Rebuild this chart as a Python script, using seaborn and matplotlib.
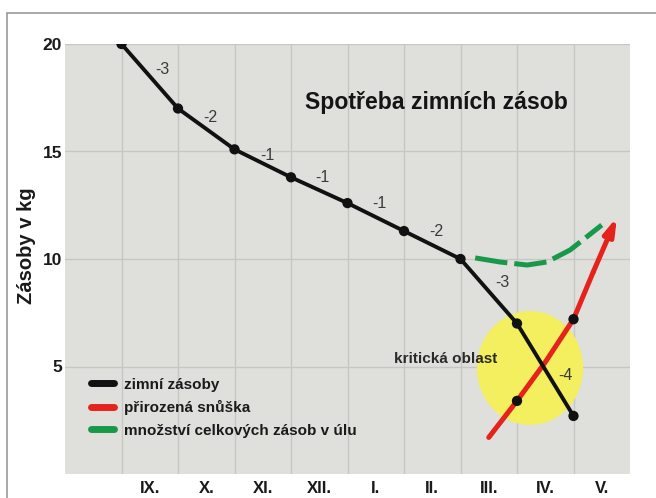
import matplotlib
matplotlib.use("Agg")
import matplotlib.pyplot as plt
import seaborn as sns
import pandas as pd
from matplotlib.patches import Ellipse, Rectangle
from matplotlib.lines import Line2D

# ---- data ----
months = ["IX.", "X.", "XI.", "XII.", "I.", "II.", "III.", "IV.", "V."]
month_pos = [1.5, 2.5, 3.5, 4.5, 5.5, 6.5, 7.5, 8.5, 9.5]

stock_x = [1, 2, 3, 4, 5, 6, 7, 8, 9]
stock_y = [20.0, 17.0, 15.1, 13.8, 12.6, 11.3, 10.0, 7.0, 2.7]
stock_diff = ["-3", "-2", "-1", "-1", "-1", "-2", "-3", "-4"]
diff_x = [1.73, 2.57, 3.59, 4.55, 5.56, 6.57, 7.75, 8.85]
diff_y = [18.8, 16.6, 14.8, 13.8, 12.56, 11.26, 8.93, 4.6]

brood_x = [7.5, 8.0, 8.5, 9.0, 9.35]
brood_y = [1.7, 3.4, 5.2, 7.2, 9.4]
brood_tip = (9.77, 11.95)
brood_pts_x = [8.0, 9.0]
brood_pts_y = [3.4, 7.2]

total_x = [7.26, 7.7, 8.18, 8.53, 8.94, 9.5]
total_y = [10.05, 9.86, 9.72, 9.86, 10.42, 11.58]

y_ticks = [5, 10, 15, 20]

title = "Spotřeba zimních zásob"
ylabel = "Zásoby v kg"
legend_labels = ["zimní zásoby", "přirozená snůška", "množství celkových zásob v úlu"]
critical = "kritická oblast"

sns.set_style("white")
plt.rcParams['font.family'] = ['Liberation Sans', 'DejaVu Sans']

W, H = 656, 498
fig = plt.figure(figsize=(6.56, 4.98), dpi=100)
fig.patch.set_facecolor("white")
# outer frame
fig.patches.append(Rectangle((7/W, -0.2), 1.2, (H-13)/H + 0.2, transform=fig.transFigure,
                             fill=False, edgecolor="#9a9a9a", linewidth=1.2))
ax = fig.add_axes([65/W, 24/H, 565/W, 430/H])
ax.set_facecolor("#dfdfdb")
ax.set_xlim(0, 10)
ax.set_ylim(0, 20)
for s in ax.spines.values():
    s.set_visible(False)

def px2data(px, py):
    return (px - 65) / 565 * 10, (474 - py) / 430 * 20

ax.set_xticks(range(1, 10))
ax.set_xticklabels([])
ax.set_xticks(month_pos, months, minor=True)
ax.set_yticks(y_ticks)
ax.set_yticklabels([str(v) for v in y_ticks])
ax.tick_params(axis="both", which="both", length=0)
ax.tick_params(axis="x", which="minor", pad=5, labelsize=12)
ax.tick_params(axis="y", pad=2, labelsize=12.5)
for lab in ax.get_xticklabels(minor=True) + ax.get_yticklabels():
    lab.set_fontweight("bold")
    lab.set_color("#1a1a1a")
ax.grid(True, which="major", color="#c6c6c2", linewidth=1)
ax.set_axisbelow(True)

# critical area
ax.add_patch(Ellipse((8.23, 4.93), 1.88, 5.3, facecolor="#f3ef5e", edgecolor="none", zorder=1.5))

df_total = pd.DataFrame({"x": total_x, "y": total_y})
sns.lineplot(data=df_total, x="x", y="y", sort=False, color="#18994a", linewidth=3.6,
             dashes=False, ax=ax, zorder=3)
ax.lines[-1].set_dashes([6.5, 1.4])

df_brood = pd.DataFrame({"x": brood_x, "y": brood_y})
sns.lineplot(data=df_brood, x="x", y="y", sort=False, color="#e5221b", linewidth=3.6, ax=ax, zorder=3)
ax.annotate("", xy=brood_tip, xytext=(brood_x[-1], brood_y[-1]),
            arrowprops=dict(arrowstyle="-|>,head_length=1.0,head_width=0.3", color="#e5221b",
                            lw=3.6, shrinkA=0, shrinkB=0), zorder=3)

df_stock = pd.DataFrame({"x": stock_x, "y": stock_y})
sns.lineplot(data=df_stock, x="x", y="y", sort=False, color="#111111", linewidth=2.8, ax=ax, zorder=4)
sns.scatterplot(data=df_stock, x="x", y="y", color="#111111", s=55, edgecolor="none", ax=ax, zorder=5)
sns.scatterplot(x=brood_pts_x, y=brood_pts_y, color="#111111", s=55, edgecolor="none", ax=ax, zorder=5)

for t, x, y in zip(stock_diff, diff_x, diff_y):
    ax.text(x, y, t, ha="center", va="center", fontsize=11.5, color="#3a3a3a", zorder=6)

cx, cy = px2data(394, 359)
ax.text(cx, cy, critical, ha="left", va="center",
        fontsize=11, fontweight="bold", color="#2a2a2a", zorder=6)

tx, ty = px2data(436.5, 103)
ax.text(tx, ty, title, ha="center", va="center",
        fontsize=16.6, fontweight="bold", color="#151515", zorder=6)

ax.set_xlabel("")
ax.set_ylabel("")
fig.text(27/W, (H-246)/H, ylabel, rotation=90, ha="center", va="center",
         fontsize=14.5, fontweight="bold", color="#1a1a1a")

handles = [Line2D([], [], color=c, lw=5) for c in ["#111111", "#e5221b", "#18994a"]]
leg = ax.legend(handles, legend_labels, loc="upper left", bbox_to_anchor=(0.035, 0.238),
                frameon=False, handlelength=1.5, handletextpad=0.7, labelspacing=0.55,
                borderaxespad=0, prop={"weight": "bold", "size": 11})
for txt in leg.get_texts():
    txt.set_color("#1a1a1a")

fig.savefig("out.png", dpi=100)
